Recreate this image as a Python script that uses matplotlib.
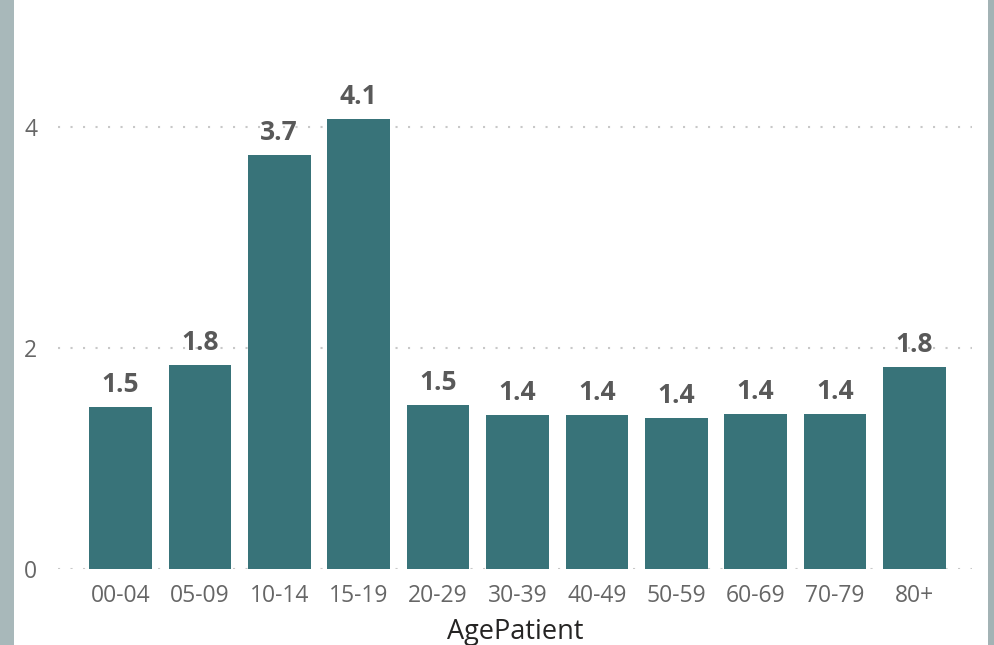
import matplotlib
matplotlib.use("Agg")
import matplotlib.pyplot as plt
from matplotlib.patches import Rectangle

categories = ["00-04", "05-09", "10-14", "15-19", "20-29", "30-39",
              "40-49", "50-59", "60-69", "70-79", "80+"]
values = [1.47, 1.85, 3.75, 4.07, 1.48, 1.39, 1.39, 1.37, 1.40, 1.40, 1.83]
labels = ["1.5", "1.8", "3.7", "4.1", "1.5", "1.4", "1.4", "1.4", "1.4", "1.4", "1.8"]
yticks = [0, 2, 4]
xlabel = "AgePatient"

plt.rcParams['font.family'] = ['Open Sans', 'DejaVu Sans']

W, H = 995, 645
fig = plt.figure(figsize=(W / 100, H / 100), dpi=100)
fig.patch.set_facecolor("white")

# side strips
fig.patches.append(Rectangle((0, 0), 14 / W, 1, transform=fig.transFigure,
                             facecolor="#A8B8BA", edgecolor="none", zorder=0))
fig.patches.append(Rectangle((988 / W, 0), 7 / W, 1, transform=fig.transFigure,
                             facecolor="#A3B3B5", edgecolor="none", zorder=0))

ax = fig.add_axes([58 / W, 76 / H, (972 - 58) / W, 569 / H])
ax.set_facecolor("none")
x = list(range(len(categories)))
ax.bar(x, values, width=0.79, color="#387379", zorder=2)

ax.set_xlim(-0.787, len(categories) - 1 + 0.724)
ax.set_ylim(0, 569 / 110.5)

for xi, v, lab in zip(x, values, labels):
    ax.annotate(lab, (xi, v), xytext=(0, 9), textcoords="offset pixels",
                ha="center", va="bottom", fontsize=19, fontweight="bold",
                color="#595959", zorder=3)

ax.set_yticks(yticks)
ax.set_yticklabels([str(t) for t in yticks])
ax.set_xticks(x)
ax.set_xticklabels(categories)
ax.tick_params(axis="both", length=0, labelsize=16.5, colors="#666666")
ax.tick_params(axis="y", pad=15)
ax.tick_params(axis="x", pad=11)

ax.yaxis.grid(True, linestyle=(0, (1, 5)), linewidth=1.5, color="#C8C8C8", zorder=1)
ax.xaxis.grid(False)
for s in ax.spines.values():
    s.set_visible(False)

ax.set_xlabel(xlabel, fontsize=19.5, color="#252423", labelpad=7)

fig.savefig("out.png", dpi=100)
